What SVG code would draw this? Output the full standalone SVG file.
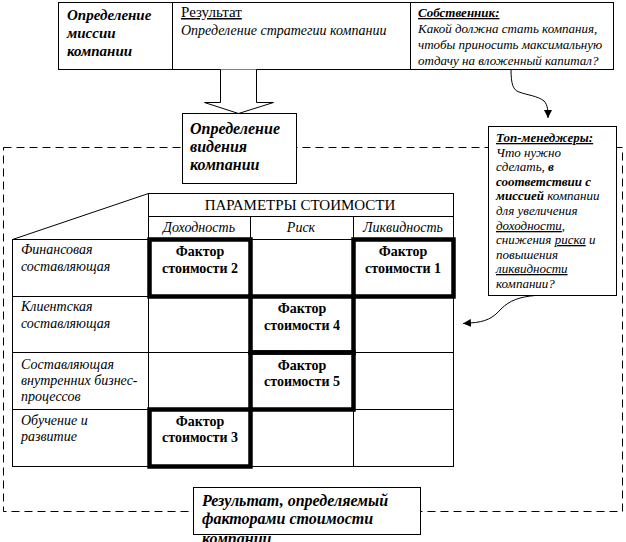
<svg xmlns="http://www.w3.org/2000/svg" width="626" height="542" viewBox="0 0 626 542">
<defs>
<marker id="ah" viewBox="0 0 10 10" refX="10" refY="5" markerWidth="8" markerHeight="8" orient="auto" markerUnits="userSpaceOnUse">
<path d="M0,0 L10,5 L0,10 Z" fill="#000"/>
</marker>
<style>
text{font-family:"Liberation Serif","Times New Roman",serif;fill:#000;font-size:13px}
.i{font-style:italic}
.b{font-weight:bold}
.bi{font-weight:bold;font-style:italic}
.u{text-decoration:underline}
.c{text-anchor:middle}
.r{font-size:14px}
.s15{font-size:15px}
.s16{font-size:16px}
.box{fill:#fff;stroke:#000;stroke-width:1}
.thin{fill:none;stroke:#000;stroke-width:1}
.thick{fill:none;stroke:#000;stroke-width:4.5}
.dash{fill:none;stroke:#000;stroke-width:1;stroke-dasharray:8 5}
.con{fill:none;stroke:#000;stroke-width:1}
.f{font-weight:bold;font-size:14px;text-anchor:middle}
</style>
</defs>
<rect width="626" height="542" fill="#fff"/>

<g id="frame">
<rect class="dash" x="3.5" y="147.5" width="619" height="364"/>
</g>

<g id="top-box">
<rect class="box" x="58.5" y="2.5" width="555" height="67"/>
<line class="thin" x1="172.5" y1="2.5" x2="172.5" y2="69.5"/>
<line class="thin" x1="410.5" y1="2.5" x2="410.5" y2="69.5"/>
<text class="bi s15" x="67" y="20">Определение</text>
<text class="bi s15" x="67" y="38">миссии</text>
<text class="bi s15" x="67" y="56">компании</text>
<text class="u s15" x="181" y="17">Результат</text>
<text class="i r" x="181" y="35">Определение стратегии компании</text>
<text class="bi u" x="418" y="17">Собственник:</text>
<text class="i" x="418" y="33">Какой должна стать компания,</text>
<text class="i" x="418" y="49">чтобы приносить максимальную</text>
<text class="i" x="418" y="65">отдачу на вложенный капитал?</text>
</g>

<g id="arrow-down">
<path class="box" d="M220.5,69.5 V102.5 H204.5 L238.5,113.5 L273.5,102.5 H256.5 V69.5"/>
</g>

<g id="vision">
<rect class="box" x="182.5" y="113.5" width="114" height="70"/>
<text class="bi s16" x="190" y="134">Определение</text>
<text class="bi s16" x="190" y="152">видения</text>
<text class="bi s16" x="190" y="170">компании</text>
</g>

<g id="top-managers">
<rect class="box" x="488.5" y="126.5" width="128" height="169"/>
<text class="bi u" x="496" y="142">Топ-менеджеры:</text>
<text class="i" x="496" y="157">Что нужно</text>
<text class="i" x="496" y="171">сделать, <tspan class="bi">в</tspan></text>
<text class="bi" x="496" y="186">соответствии с</text>
<text class="i" x="496" y="200"><tspan class="bi">миссией</tspan> компании</text>
<text class="i" x="496" y="215">для увеличения</text>
<text class="i" x="496" y="230"><tspan class="u">доходности</tspan>,</text>
<text class="i" x="496" y="244">снижения <tspan class="u">риска</tspan> и</text>
<text class="i" x="496" y="259">повышения</text>
<text class="i" x="496" y="273"><tspan class="u">ликвидности</tspan></text>
<text class="i" x="496" y="288">компании?</text>
</g>

<g id="table">
<line class="thin" x1="12.5" y1="239.5" x2="148.5" y2="193.5"/>
<rect class="thin" x="148.5" y="193.5" width="305" height="46"/>
<line class="thin" x1="148.5" y1="216.5" x2="453.5" y2="216.5"/>
<line class="thin" x1="250.5" y1="216.5" x2="250.5" y2="466.5"/>
<line class="thin" x1="353.5" y1="216.5" x2="353.5" y2="466.5"/>
<rect class="thin" x="12.5" y="239.5" width="441" height="227"/>
<line class="thin" x1="148.5" y1="239.5" x2="148.5" y2="466.5"/>
<line class="thin" x1="12.5" y1="296.5" x2="453.5" y2="296.5"/>
<line class="thin" x1="12.5" y1="352.5" x2="453.5" y2="352.5"/>
<line class="thin" x1="12.5" y1="409.5" x2="453.5" y2="409.5"/>
<text class="c s15" x="300" y="210">ПАРАМЕТРЫ СТОИМОСТИ</text>
<text class="i c r" x="199" y="232">Доходность</text>
<text class="i c r" x="301" y="232">Риск</text>
<text class="i c r" x="403" y="232">Ликвидность</text>
<text class="i r" x="21" y="254">Финансовая</text>
<text class="i r" x="21" y="271">составляющая</text>
<text class="i r" x="21" y="311">Клиентская</text>
<text class="i r" x="21" y="328">составляющая</text>
<text class="i r" x="21" y="369">Составляющая</text>
<text class="i r" x="21" y="385">внутренних бизнес-</text>
<text class="i r" x="21" y="401">процессов</text>
<text class="i r" x="21" y="425">Обучение и</text>
<text class="i r" x="21" y="441">развитие</text>
</g>

<g id="factor-2">
<rect class="thick" x="149.5" y="239.5" width="101" height="57"/>
<text class="f" x="200" y="256">Фактор</text>
<text class="f" x="200" y="273">стоимости 2</text>
</g>
<g id="factor-1">
<rect class="thick" x="353.5" y="239.5" width="100" height="57"/>
<text class="f" x="403" y="256">Фактор</text>
<text class="f" x="403" y="273">стоимости 1</text>
</g>
<g id="factor-4">
<rect class="thick" x="250.5" y="296.5" width="103" height="56"/>
<text class="f" x="302" y="313">Фактор</text>
<text class="f" x="302" y="330">стоимости 4</text>
</g>
<g id="factor-5">
<rect class="thick" x="250.5" y="352.5" width="103" height="57"/>
<text class="f" x="302" y="370">Фактор</text>
<text class="f" x="302" y="386">стоимости 5</text>
</g>
<g id="factor-3">
<rect class="thick" x="149.5" y="409.5" width="101" height="57"/>
<text class="f" x="200" y="426">Фактор</text>
<text class="f" x="200" y="442">стоимости 3</text>
</g>

<g id="result">
<rect class="box" x="193.5" y="487.5" width="227" height="47"/>
<text class="bi s16" x="202" y="506">Результат, определяемый</text>
<text class="bi s16" x="202" y="524">факторами стоимости</text>
<text class="bi s16" x="202" y="544">компании</text>
</g>

<g id="connectors">
<path class="con" d="M511,69 C511,84 513,90 519,92 C527,95 538,96 544,101 C548,105 548,112 548,118" marker-end="url(#ah)"/>
<path class="con" d="M535,295.5 C520,297 510,300 501,309 C493,318 486,322 470,323 L463,323.5" marker-end="url(#ah)"/>
</g>
</svg>
